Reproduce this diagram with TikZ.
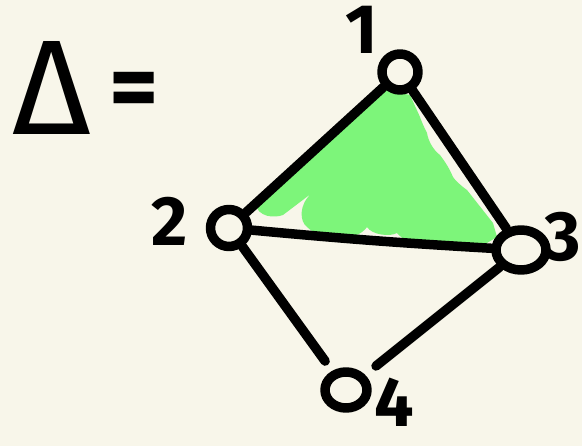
\documentclass[tikz,border=0pt]{standalone}
\usepackage{fontspec}
\usetikzlibrary{shapes.geometric}
\setmainfont{Fira Sans}
\definecolor{bg}{HTML}{F8F6EA}
\definecolor{fillgreen}{HTML}{7DF57A}
\begin{document}
\begin{tikzpicture}[x=1pt,y=-1pt,
  ink/.style={line width=9.5pt,line cap=round,line join=round},
  vtx/.style={draw,ink,circle,minimum size=36pt,inner sep=0pt},
  lbl/.style={font=\fontsize{70}{70}\selectfont\bfseries,inner sep=0pt}]
\fill[bg] (0,0) rectangle (582,446);
\useasboundingbox (0,0) rectangle (582,446);
% green fill
\fill[fillgreen] (385,90) -- (255,203) .. controls (258,218) and (275,218) .. (283,215)
  -- (312,193) .. controls (298,205) and (300,222) .. (307,227)
  .. controls (315,236) and (340,240) .. (350,237)
  .. controls (360,235) and (365,230) .. (367,227)
  .. controls (372,235) and (390,237) .. (397,233)
  .. controls (403,240) and (410,243) .. (420,243)
  -- (487,243) -- (497,237) -- (493,223) -- (467,190)
  .. controls (460,185) and (455,180) .. (453,177)
  .. controls (448,165) and (442,158) .. (440,155)
  .. controls (433,150) and (428,140) .. (427,133)
  .. controls (423,125) and (421,120) .. (420,117)
  -- (410,95) -- cycle;
% nodes
\node[vtx] (n1) at (400,72) {};
\node[vtx,ellipse,minimum width=50pt,minimum height=40pt] (n3) at (521,250) {};
\node[vtx,minimum size=37pt] (n2) at (229,228) {};
\node[vtx,ellipse,minimum width=42pt,minimum height=36pt] (n4) at (346,390) {};
% edges
\draw[ink] (n1) -- (n2);
\draw[ink] (n1) -- (n3);
\draw[ink] (n2) to[bend right=1] (n3);
\draw[ink,shorten >=12pt] (n2) -- (n4);
\draw[ink,shorten >=14pt] (n3) -- (n4);
% labels
\node[lbl] (l1) at (362,30) {1};
\node[lbl] (l2) at (170,221) {2};
\node[lbl] (l3) at (563,237) {3};
\node[lbl] (l4) at (394,402) {4};
% Delta =
\node[lbl,font=\fontsize{135}{135}\selectfont\mdseries] (delta) at (52,88) {Δ};
\node[lbl,font=\fontsize{95}{95}\selectfont\bfseries] (eq) at (134,96) {=};
\end{tikzpicture}
\end{document}
